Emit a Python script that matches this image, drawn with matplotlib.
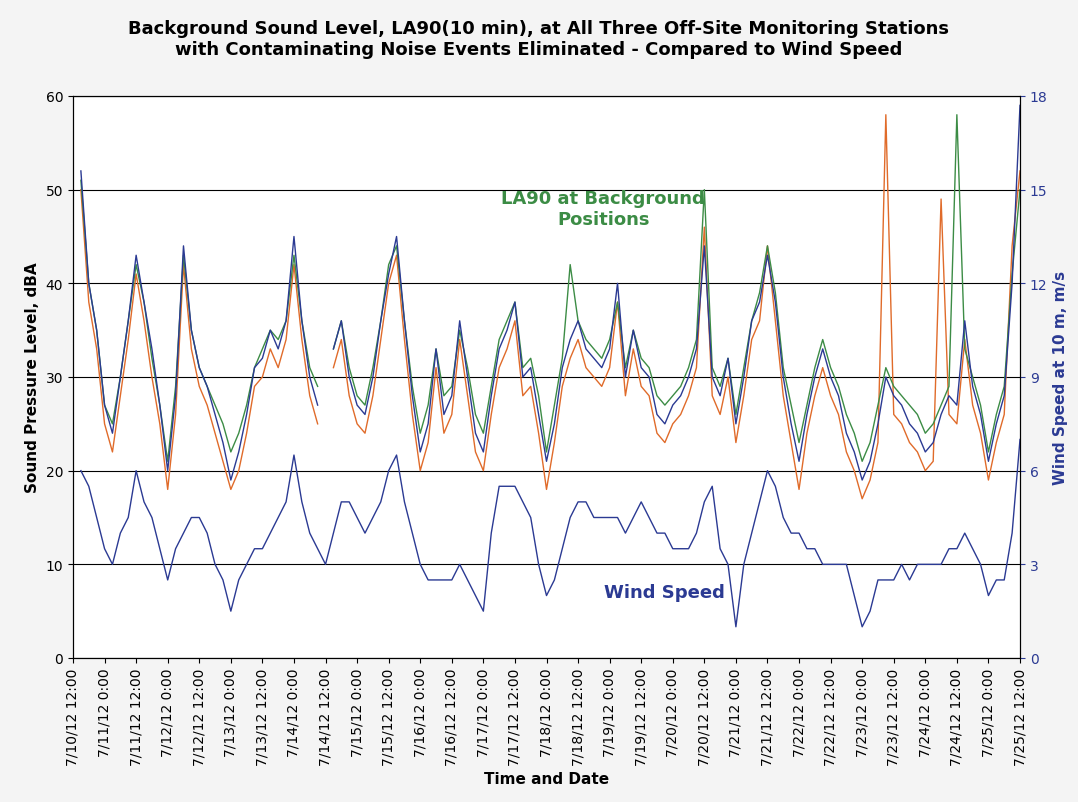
import numpy as np, pandas as pd, matplotlib
matplotlib.use("Agg")
import matplotlib.pyplot as plt
import matplotlib.dates as mdates
nan = np.nan
start = "2012-07-10 12:00"
# 3-hourly readings from 7/10/12 12:00 to 7/25/12 12:00
la90_blue = [nan,52,40,35, 27,24,30,36,43,38,33,27, 20,28,44,35,31,29,26,23,
 19,22,26,31,32,35,33,36, 45,36,30,27,nan,33,36,30, 27,26,30,36,41,45,36,28,
 22,25,33,26,28,36,30,24, 22,28,33,35,38,30,31,26, 21,25,31,34,36,33,32,31,
 33,40,30,35,31,30,26,25, 27,28,30,33,44,30,28,32, 25,30,36,38,43,38,30,25,
 21,26,30,33,30,28,24,22, 19,21,25,30,28,27,25,24, 22,23,26,28,27,36,29,26,
 21,25,28,40,59]
la90_orange = [nan,50,38,33, 25,22,28,34,41,36,30,25, 18,26,42,33,29,27,24,21,
 18,20,24,29,30,33,31,34, 42,34,28,25,nan,31,34,28, 25,24,28,34,40,43,34,26,
 20,23,31,24,26,34,28,22, 20,26,31,33,36,28,29,24, 18,23,29,32,34,31,30,29,
 31,38,28,33,29,28,24,23, 25,26,28,31,46,28,26,30, 23,28,34,36,44,36,28,23,
 18,24,28,31,28,26,22,20, 17,19,23,58,26,25,23,22, 20,21,49,26,25,34,27,24,
 19,23,26,44,52]
la90_green = [nan,51,40,35, 27,25,30,36,42,38,32,27, 21,29,43,35,31,29,27,25,
 22,24,27,31,33,35,34,36, 43,36,31,29,nan,33,36,31, 28,27,31,36,42,44,36,29,
 24,27,33,28,29,35,31,26, 24,29,34,36,38,31,32,28, 22,27,32,42,36,34,33,32,
 34,38,31,35,32,31,28,27, 28,29,31,34,50,31,29,32, 26,31,36,39,44,39,31,27,
 23,27,31,34,31,29,26,24, 21,23,27,31,29,28,27,26, 24,25,27,29,58,33,30,27,
 22,26,29,41,50]
wind = [nan,6,5.5,4.5, 3.5,3,4,4.5,6,5,4.5,3.5, 2.5,3.5,4,4.5,4.5,4,3,2.5,
 1.5,2.5,3,3.5,3.5,4,4.5,5, 6.5,5,4,3.5,3,4,5,5, 4.5,4,4.5,5,6,6.5,5,4,
 3,2.5,2.5,2.5,2.5,3,2.5,2, 1.5,4,5.5,5.5,5.5,5,4.5,3, 2,2.5,3.5,4.5,5,5,4.5,4.5,
 4.5,4.5,4,4.5,5,4.5,4,4, 3.5,3.5,3.5,4,5,5.5,3.5,3, 1,3,4,5,6,5.5,4.5,4,
 4,3.5,3.5,3,3,3,3,2, 1,1.5,2.5,2.5,2.5,3,2.5,3, 3,3,3,3.5,3.5,4,3.5,3,
 2,2.5,2.5,4,7]
t = pd.date_range(start, periods=len(la90_blue), freq="3h")

fig = plt.figure(figsize=(10.78, 8.03), dpi=100)
fig.patch.set_facecolor("#f4f4f4")
ax = fig.add_axes([73/1078, 1-659/803, 947/1078, 562/803])
ax.set_facecolor("white")
ax.plot(t, la90_orange, color="#E06B2A", lw=1)
ax.plot(t, la90_green, color="#3C8C45", lw=1)
ax.plot(t, la90_blue, color="#2B3A93", lw=1)
ax.set_ylim(0, 60); ax.set_yticks(range(0, 61, 10))
ax.grid(axis="y", color="black", lw=0.8)
ax.set_xlim(pd.Timestamp(start), pd.Timestamp("2012-07-25 12:00"))
ticks = pd.date_range(start, "2012-07-25 12:00", freq="12h")
ax.set_xticks(ticks)
ax.set_xticklabels([f"{d.month}/{d.day}/12 {d.hour}:00" for d in ticks], rotation=90, fontsize=10)
ax.set_ylabel("Sound Pressure Level, dBA", fontsize=11, fontweight="bold")
ax.set_xlabel("Time and Date", fontsize=11, fontweight="bold")
ax2 = ax.twinx()
ax2.plot(t, wind, color="#2B3A93", lw=1)
ax2.set_ylim(0, 18); ax2.set_yticks(range(0, 19, 3))
ax2.tick_params(colors="#2B3A93")
ax2.set_ylabel("Wind Speed at 10 m, m/s", fontsize=11, fontweight="bold", color="#2B3A93")
ax.text(0.56, 0.8, "LA90 at Background\nPositions", transform=ax.transAxes, ha="center", va="center",
        color="#3C8C45", fontsize=13, fontweight="bold")
ax.text(0.625, 0.117, "Wind Speed", transform=ax.transAxes, ha="center", va="center",
        color="#2B3A93", fontsize=13, fontweight="bold")
fig.suptitle("Background Sound Level, LA90(10 min), at All Three Off-Site Monitoring Stations\nwith Contaminating Noise Events Eliminated - Compared to Wind Speed",
             y=0.975, fontsize=13, fontweight="bold")
fig.savefig("out.png", dpi=100, facecolor=fig.get_facecolor())
